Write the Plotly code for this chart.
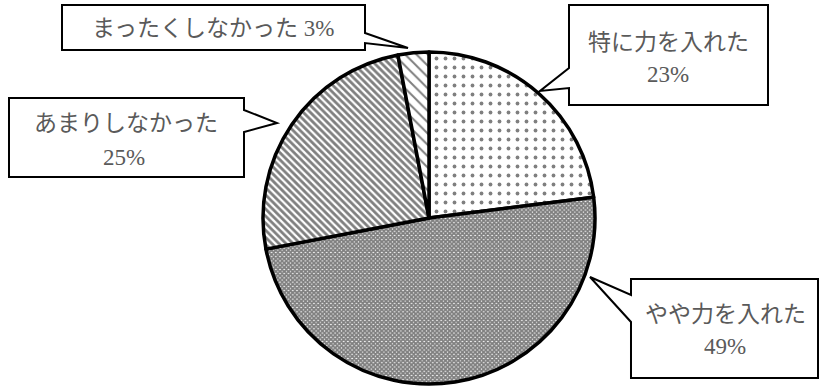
import plotly.graph_objects as go

# Survey answers (clockwise from 12 o'clock)
labels = ["特に力を入れた", "やや力を入れた", "あまりしなかった", "まったくしなかった"]
values = [23, 49, 25, 3]

# Fill patterns approximating the original black/white hatches
pattern_shapes = [".", "x", "\\", "\\"]
pattern_sizes = [9, 3, 5, 8]
pattern_solidity = [0.14, 0.85, 0.55, 0.25]

W, H = 821, 390
FONT = "Liberation Serif, Noto Sans CJK JP, serif"
TEXT_COLOR = "#5a5a5a"


def px(x, y):
    """Pixel position -> paper coords (margins are zero)."""
    return x / W, 1 - y / H


def path(points):
    parts = []
    for i, (x, y) in enumerate(points):
        u, v = px(x, y)
        parts.append(("M" if i == 0 else "L") + f"{u:.5f},{v:.5f}")
    return " ".join(parts) + " Z"


# Callout outlines (box + pointer wedge), in pixels
callouts = {
    "特に力を入れた": [(569, 5), (768, 5), (768, 105), (569, 105), (569, 88), (540, 91), (569, 68)],
    "やや力を入れた": [(631, 279), (818, 279), (818, 378), (631, 378), (631, 322), (590, 277), (631, 295)],
    "あまりしなかった": [(9, 98), (244, 98), (244, 110), (277, 123), (244, 132), (244, 177), (9, 177)],
    "まったくしなかった": [(62, 5), (365, 5), (365, 33), (408, 48), (365, 43), (365, 50), (62, 50)],
}

# Text line anchors inside each callout, in pixels
text_lines = {
    "特に力を入れた": [(668, 42), (668, 74)],
    "やや力を入れた": [(725, 314), (725, 346)],
    "あまりしなかった": [(126, 124), (124, 157)],
    "まったくしなかった": [(213, 29)],
}

fig = go.Figure(go.Pie(
    labels=labels,
    values=values,
    sort=False,
    direction="clockwise",
    rotation=0,
    textinfo="none",
    hoverinfo="label+percent",
    showlegend=False,
    marker=dict(
        colors=["white"] * 4,
        line=dict(color="black", width=3.5),
        pattern=dict(
            shape=pattern_shapes,
            size=pattern_sizes,
            solidity=pattern_solidity,
            fgcolor="black",
            bgcolor="white",
            fillmode="overlay",
        ),
    ),
    domain=dict(x=[263 / W, 595 / W], y=[1 - 384 / H, 1 - 52 / H]),
))

shapes = []
annotations = []
for lab, val in zip(labels, values):
    shapes.append(dict(
        type="path", xref="paper", yref="paper",
        path=path(callouts[lab]),
        line=dict(color="black", width=2),
        fillcolor="white", layer="above",
    ))
    anchors = text_lines[lab]
    if len(anchors) == 1:
        lines = [f"{lab} {val}%"]
    else:
        lines = [lab, f"{val}%"]
    for (x, y), t in zip(anchors, lines):
        u, v = px(x, y)
        annotations.append(dict(
            x=u, y=v, xref="paper", yref="paper",
            text=t, showarrow=False,
            xanchor="center", yanchor="middle",
            font=dict(family=FONT, size=23, color=TEXT_COLOR),
        ))

fig.update_layout(
    width=W, height=H,
    margin=dict(l=0, r=0, t=0, b=0),
    paper_bgcolor="white",
    plot_bgcolor="white",
    shapes=shapes,
    annotations=annotations,
)

# drop the browser's default body margin so the figure sits at (0, 0)
fig.write_html("out.html", config={"displayModeBar": False},
               post_script="document.body.style.margin='0';")
